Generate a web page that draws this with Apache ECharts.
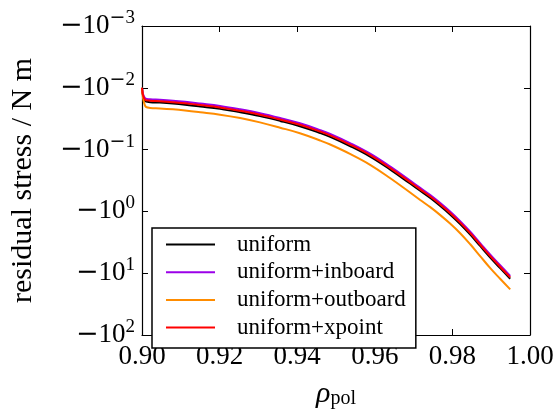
<!DOCTYPE html>
<html>
<head>
<meta charset="utf-8">
<script src="https://cdn.jsdelivr.net/npm/echarts@6/dist/echarts.min.js"></script>
<style>
  html, body { margin: 0; padding: 0; background: #fff; }
  #chart { width: 560px; height: 414px; }
</style>
</head>
<body>
<div id="chart"></div>
<script>
// rho_pol sample positions
const rho = [0.9000, 0.9008, 0.9021, 0.9046, 0.9080, 0.9111, 0.9150, 0.9201, 0.9253, 0.9304,
  0.9356, 0.9407, 0.9459, 0.9485, 0.9536, 0.9588, 0.9640, 0.9691, 0.9717, 0.9743,
  0.9768, 0.9794, 0.9820, 0.9846, 0.9872, 0.9897, 0.9923, 0.9949]

// magnitudes of the (negative) residual stress, N m
const uniform = [0.0100, 0.01645, 0.01706, 0.01737, 0.01800, 0.01879, 0.02004, 0.02193, 0.02486, 0.02871,
  0.03435, 0.04184, 0.05380, 0.06213, 0.08738, 0.1297, 0.2106, 0.3544, 0.4639, 0.6072,
  0.8095, 1.118, 1.601, 2.377, 3.658, 5.526, 8.290, 12.31]
const inboard = [0.0100, 0.01477, 0.01532, 0.01560, 0.01616, 0.01687, 0.01799, 0.01969, 0.02232, 0.02578,
  0.03084, 0.03757, 0.04831, 0.05579, 0.07846, 0.1165, 0.1891, 0.3182, 0.4165, 0.5452,
  0.7268, 1.004, 1.438, 2.134, 3.285, 4.962, 7.444, 11.05]
const outboard = [0.0100, 0.01969, 0.02116, 0.02155, 0.02233, 0.02331, 0.02486, 0.02720, 0.03084, 0.03626,
  0.04416, 0.05437, 0.07118, 0.08279, 0.1173, 0.1760, 0.2909, 0.4949, 0.6524, 0.8540,
  1.138, 1.572, 2.252, 3.404, 5.333, 8.202, 12.30, 18.27]
const xpoint = [0.0100, 0.01559, 0.01617, 0.01646, 0.01706, 0.01781, 0.01899, 0.02078, 0.02356, 0.02721,
  0.03255, 0.03965, 0.05098, 0.05887, 0.08280, 0.1229, 0.1996, 0.3358, 0.4396, 0.5754,
  0.7671, 1.059, 1.517, 2.252, 3.466, 5.236, 7.856, 11.66]

const seriesNames = ['uniform', 'uniform+inboard', 'uniform+outboard', 'uniform+xpoint']
const seriesColors = ['#000000', '#9b00e8', '#ff8c00', '#ff0000']

const font = 'Liberation Serif'

function pairs(vals) {
  return vals.map((v, i) => [rho[i], v])
}

function yLabel(v) {
  const k = Math.round(Math.log10(v))
  if (k < 0) return '{m|\u2212}{a|10}{sm|\u2212}{s|' + (-k) + '}'
  return '{m|\u2212}{a|10}{s|' + k + '}'
}

const chart = echarts.init(document.getElementById('chart'), null, { renderer: 'canvas' })

const tick = { inside: true, length: 6, lineStyle: { color: '#000', width: 1 } }
const line = { lineStyle: { color: '#000', width: 1.2 } }

chart.setOption({
  animation: false,
  grid: { left: 142, right: 30, top: 26, bottom: 67 },
  legend: {
    orient: 'vertical',
    left: 152,
    top: 228,
    padding: [5, 10, 9, 14],
    itemGap: 4.7,
    itemWidth: 49,
    itemHeight: 2,
    icon: 'rect',
    borderColor: '#000',
    borderWidth: 1.5,
    borderRadius: 0,
    backgroundColor: '#fff',
    textStyle: { fontFamily: font, fontSize: 23, lineHeight: 20, color: '#000', padding: [0, 0, 0, 17] },
    data: seriesNames
  },
  xAxis: [
    {
      type: 'value',
      min: 0.9,
      max: 1.0,
      interval: 0.02,
      name: '{r|\u03c1}{p|pol}',
      nameLocation: 'middle',
      nameGap: 44,
      nameTextStyle: {
        rich: {
          r: { fontFamily: font, fontStyle: 'italic', fontSize: 30, color: '#000' },
          p: { fontFamily: font, fontSize: 20, color: '#000', verticalAlign: 'bottom', padding: [10, 0, 0, 0] }
        }
      },
      axisLine: line,
      axisTick: tick,
      splitLine: { show: false },
      axisLabel: {
        fontFamily: font, fontSize: 27, color: '#000', margin: 8,
        formatter: v => v.toFixed(2)
      }
    },
    {
      type: 'value',
      position: 'top',
      min: 0.9,
      max: 1.0,
      interval: 0.02,
      axisLine: line,
      axisTick: tick,
      splitLine: { show: false },
      axisLabel: { show: false }
    }
  ],
  yAxis: [
    {
      type: 'log',
      logBase: 10,
      inverse: true,
      min: 0.001,
      max: 100,
      interval: 1,
      name: 'residual stress / N m',
      nameLocation: 'middle',
      nameGap: 104,
      nameTextStyle: { fontFamily: font, fontSize: 30, color: '#000' },
      axisLine: line,
      axisTick: tick,
      splitLine: { show: false },
      minorTick: { show: false },
      axisLabel: {
        margin: 7,
        formatter: yLabel,
        rich: {
          m: { fontFamily: 'DejaVu Serif', fontSize: 27, color: '#000' },
          a: { fontFamily: font, fontSize: 27, color: '#000' },
          sm: { fontFamily: 'DejaVu Serif', fontSize: 19, color: '#000', verticalAlign: 'top', padding: [0, 0, 16, 0] },
          s: { fontFamily: font, fontSize: 19, color: '#000', verticalAlign: 'top', padding: [0, 0, 16, 0] }
        }
      }
    },
    {
      type: 'log',
      logBase: 10,
      inverse: true,
      position: 'right',
      min: 0.001,
      max: 100,
      interval: 1,
      axisLine: line,
      axisTick: tick,
      splitLine: { show: false },
      axisLabel: { show: false }
    }
  ],
  series: seriesNames.map((name, i) => ({
    name: name,
    type: 'line',
    xAxisIndex: 0,
    yAxisIndex: 0,
    showSymbol: false,
    symbol: 'none',
    smooth: 0.4,
    color: seriesColors[i],
    lineStyle: { color: seriesColors[i], width: 2 },
    z: i === 3 ? 5 : 2 + i * 0.1,
    data: pairs([uniform, inboard, outboard, xpoint][i])
  }))
})
</script>
</body>
</html>
